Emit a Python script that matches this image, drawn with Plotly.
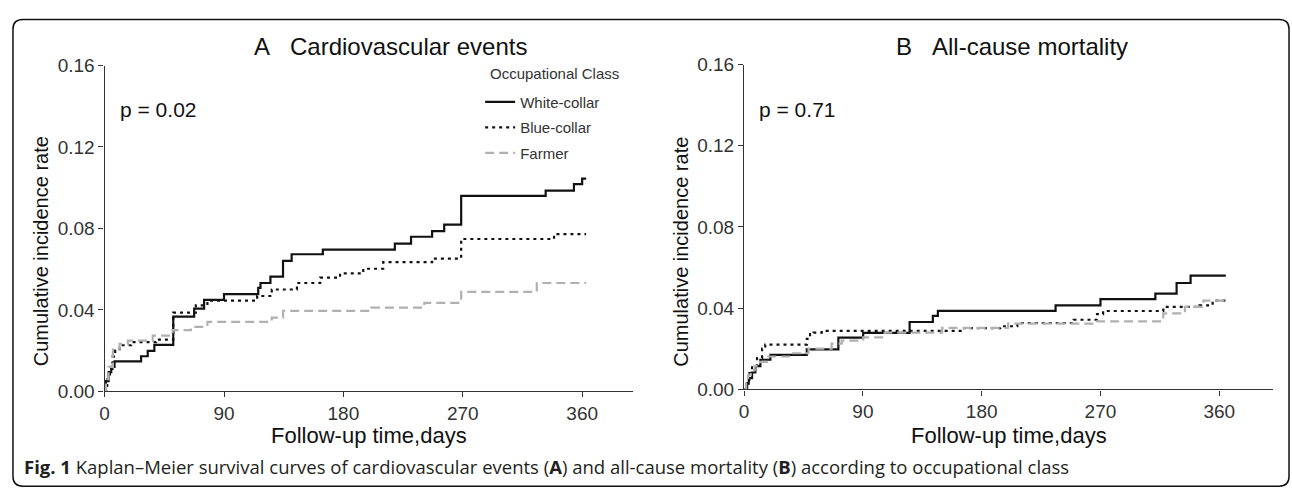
import plotly.graph_objects as go

# ---------------- data ----------------
groups = ["White-collar", "Blue-collar", "Farmer"]
x_ticks = [0, 90, 180, 270, 360]
y_ticks = [0.00, 0.04, 0.08, 0.12, 0.16]

# Panel A: cardiovascular events
wc_a_t = [0, 1, 3, 5, 7.5, 27.5, 32.5, 37.5, 51.75, 67.5, 75, 90, 115.8, 117.5, 125, 134.5, 141, 164.5,
          218.8, 231, 246.9, 256, 268.8, 332.5, 353.8, 360, 363]
wc_a_v = [0, 0.005, 0.0094, 0.012, 0.0147, 0.0172, 0.0198, 0.0228, 0.0367, 0.0406, 0.0449, 0.0477, 0.0508,
          0.0532, 0.0563, 0.0641, 0.0673, 0.0696, 0.0725, 0.0759, 0.0787, 0.0819, 0.096, 0.0986, 0.1018,
          0.1045, 0.1045]
bc_a_t = [0, 2, 4, 6, 8, 11.25, 20, 38.75, 51.75, 68.75, 77.5, 115, 126, 145, 162.5, 177.5, 195, 210,
          246.9, 268.8, 338.8, 363]
bc_a_v = [0, 0.006, 0.011, 0.017, 0.020, 0.0226, 0.0241, 0.0254, 0.0386, 0.0422, 0.0445, 0.0468, 0.050,
          0.0532, 0.0558, 0.0579, 0.0602, 0.0634, 0.0652, 0.0748, 0.0772, 0.0772]
fm_a_t = [0, 1, 3, 6.25, 11.25, 17.5, 36.25, 51.25, 65, 77.5, 126, 134.5, 201, 241, 268.8, 325.8, 363]
fm_a_v = [0, 0.006, 0.012, 0.021, 0.0233, 0.0249, 0.0273, 0.0300, 0.0316, 0.0341, 0.0362, 0.0395, 0.0411,
          0.0434, 0.0488, 0.0532, 0.0532]

# Panel B: all-cause mortality
wc_b_t = [0, 2.3, 3.5, 6, 8.5, 12.3, 19.9, 47.5, 71.4, 90.2, 125.4, 143, 146.8, 236, 270, 311.6, 327.7,
          338.3, 365]
wc_b_v = [0, 0.0028, 0.0055, 0.0083, 0.0115, 0.0146, 0.0170, 0.0197, 0.0255, 0.0278, 0.0332, 0.0362,
          0.0387, 0.0414, 0.0445, 0.0472, 0.0524, 0.0560, 0.0560]
bc_b_t = [0, 2, 4, 6, 9.8, 13.6, 16, 47.5, 50, 52.5, 58.8, 166.6, 194, 207, 249.6, 267.4, 272, 317.6,
          345, 355, 365]
bc_b_v = [0, 0.004, 0.008, 0.0116, 0.0154, 0.0201, 0.0220, 0.0249, 0.0272, 0.0280, 0.0288, 0.0302,
          0.0311, 0.0327, 0.0343, 0.0371, 0.0386, 0.0406, 0.0414, 0.0437, 0.0437]
fm_b_t = [0, 1.5, 3, 5, 8, 12, 17.3, 36, 48.8, 66.3, 73.9, 90.2, 106.5, 150, 200, 267.4, 317.6, 334,
          348, 365]
fm_b_v = [0, 0.004, 0.007, 0.0095, 0.0116, 0.0135, 0.0162, 0.0178, 0.0201, 0.0225, 0.0240, 0.0256,
          0.0280, 0.0303, 0.0324, 0.0335, 0.0374, 0.0406, 0.0437, 0.0437]

p_values = ["p = 0.02", "p = 0.71"]
titles = ["A\u00a0\u00a0\u00a0Cardiovascular events", "B\u00a0\u00a0\u00a0All-cause mortality"]
x_title = "Follow-up time,days"
y_title = "Cumulative incidence rate"
legend_title = "Occupational Class"
caption = ("<b>Fig. 1</b> Kaplan\u2013Meier survival curves of cardiovascular events (<b>A</b>) "
           "and all-cause mortality (<b>B</b>) according to occupational class")

# ---------------- styling ----------------
W, H = 1292, 500
FONT = "Liberation Sans, Arial, sans-serif"
styles = {
    "White-collar": dict(color="#111111", width=2.2, dash="solid"),
    "Blue-collar": dict(color="#111111", width=2.2, dash="3px,4px"),
    "Farmer": dict(color="#b0b0b0", width=2.2, dash="9px,5px"),
}

def px2x(p):
    return p / W

def px2y(p):
    return 1 - p / H

fig = go.Figure()
panel_data = [
    [(wc_a_t, wc_a_v), (bc_a_t, bc_a_v), (fm_a_t, fm_a_v)],
    [(wc_b_t, wc_b_v), (bc_b_t, bc_b_v), (fm_b_t, fm_b_v)],
]
for pi, series in enumerate(panel_data):
    for gi, (t, v) in enumerate(series):
        name = groups[gi]
        fig.add_trace(go.Scatter(
            x=t, y=v, mode="lines", line_shape="hv", name=name,
            line=styles[name], legendgroup=name, showlegend=(pi == 0),
            xaxis="x" if pi == 0 else "x2", yaxis="y" if pi == 0 else "y2",
        ))

axis_common = dict(showgrid=False, zeroline=False, showline=True, linecolor="#333333", linewidth=1.3,
                   ticks="outside", ticklen=5, tickwidth=1.3, tickcolor="#333333",
                   tickfont=dict(family=FONT, size=19, color="#333333"))

fig.update_layout(
    width=W, height=H,
    margin=dict(l=0, r=0, t=0, b=0),
    paper_bgcolor="white", plot_bgcolor="white",
    xaxis=dict(domain=[px2x(100), px2x(630)], range=[0, 398], tickvals=x_ticks, anchor="y", **axis_common),
    yaxis=dict(domain=[px2y(398), px2y(58)], range=[0, 0.16], tickvals=y_ticks, tickformat=".2f",
               anchor="x", **axis_common),
    xaxis2=dict(domain=[px2x(742), px2x(1273)], range=[0, 400.8], tickvals=x_ticks, anchor="y2", **axis_common),
    yaxis2=dict(domain=[px2y(396), px2y(57)], range=[0, 0.16], tickvals=y_ticks, tickformat=".2f",
                anchor="x2", **axis_common),
    legend=dict(font=dict(family=FONT, size=15, color="#333333"),
                x=px2x(477), y=px2y(79), xanchor="left", yanchor="top",
                bgcolor="rgba(0,0,0,0)", tracegroupgap=3),
    showlegend=True,
)

ann = []
for i, (left, axis_px, center_px) in enumerate([(248, 100, 365), (892, 742, 1007.5)]):
    ann.append(dict(text=titles[i], x=px2x(left), y=px2y(38), xref="paper", yref="paper",
                    xanchor="left", yanchor="middle", showarrow=False,
                    font=dict(family=FONT, size=24, color="#111111")))
    ann.append(dict(text=p_values[i], x=px2x(axis_px + 13), y=px2y(104), xref="paper", yref="paper",
                    xanchor="left", yanchor="middle", showarrow=False,
                    font=dict(family=FONT, size=21, color="#111111")))
    ann.append(dict(text=x_title, x=px2x(center_px), y=px2y(444), xref="paper", yref="paper",
                    xanchor="center", yanchor="middle", showarrow=False,
                    font=dict(family=FONT, size=22, color="#111111")))
    ann.append(dict(text=y_title, x=px2x(axis_px - 63), y=px2y(252), xref="paper", yref="paper",
                    xanchor="center", yanchor="middle", showarrow=False, textangle=-90,
                    font=dict(family=FONT, size=20, color="#111111")))
ann.append(dict(text=legend_title, x=px2x(485), y=px2y(66.5), xref="paper", yref="paper",
                xanchor="left", yanchor="middle", showarrow=False,
                font=dict(family=FONT, size=15, color="#333333")))
ann.append(dict(text=caption, x=px2x(17), y=px2y(477), xref="paper", yref="paper",
                xanchor="left", yanchor="middle", showarrow=False,
                font=dict(family="Open Sans, Noto Sans, sans-serif", size=18.5, color="#231f20")))
fig.update_layout(annotations=ann)

# rounded outer frame
L, T, R, B, r = 8, 10, 1289, 497, 10
path = (f"M {px2x(L + r)},{px2y(T)} L {px2x(R - r)},{px2y(T)} Q {px2x(R)},{px2y(T)} {px2x(R)},{px2y(T + r)} "
        f"L {px2x(R)},{px2y(B - r)} Q {px2x(R)},{px2y(B)} {px2x(R - r)},{px2y(B)} "
        f"L {px2x(L + r)},{px2y(B)} Q {px2x(L)},{px2y(B)} {px2x(L)},{px2y(B - r)} "
        f"L {px2x(L)},{px2y(T + r)} Q {px2x(L)},{px2y(T)} {px2x(L + r)},{px2y(T)} Z")
fig.add_shape(type="path", path=path, xref="paper", yref="paper",
              line=dict(color="#111111", width=1.5), fillcolor="rgba(0,0,0,0)")

fig.write_html("out.html", config={"displayModeBar": False},
               post_script="document.body.style.margin='0px';document.body.style.overflow='hidden';")
